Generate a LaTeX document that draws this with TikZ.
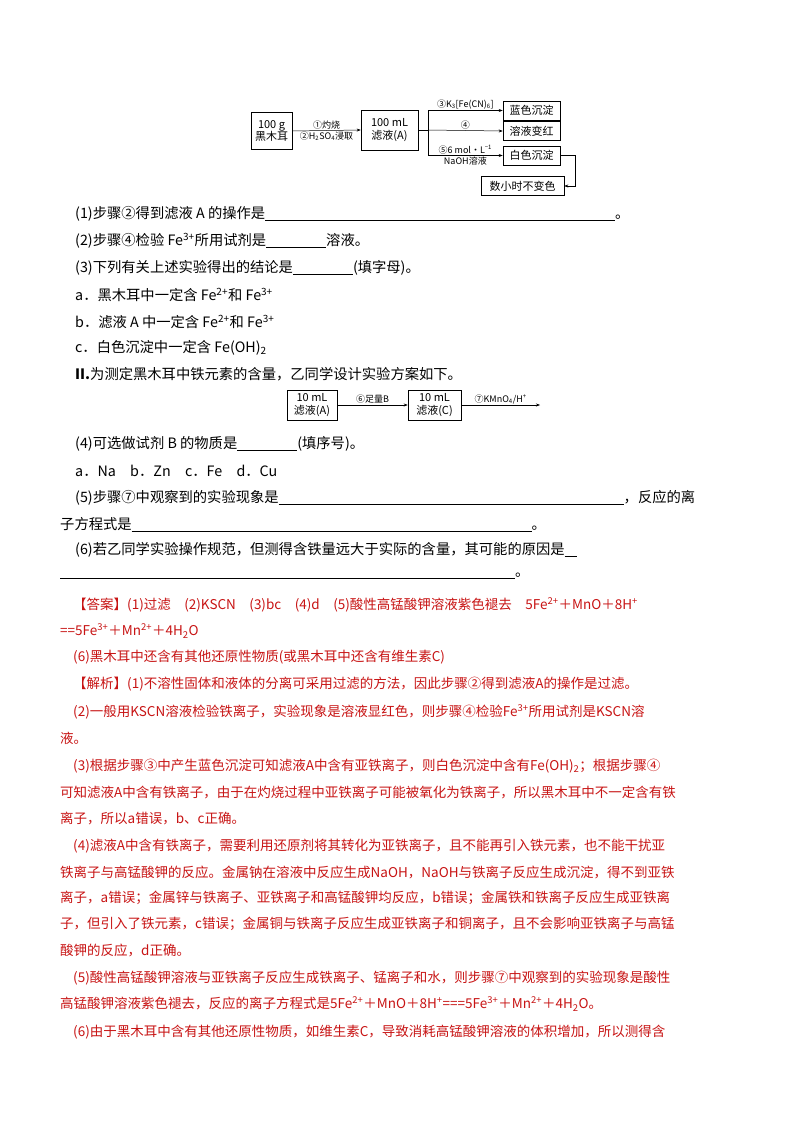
\documentclass[tikz,border=0pt]{standalone}
\usepackage{fontspec}
\setmainfont{Noto Sans CJK SC}
\usetikzlibrary{arrows.meta}
\newcommand\sps[1]{\textsuperscript{#1}}
\newcommand\sbs[1]{\textsubscript{#1}}
\newcommand\ul[1]{\rule[-2pt]{#1pt}{0.5pt}}
\definecolor{ans}{RGB}{200,20,20}
\begin{document}
\begin{tikzpicture}[x=1pt,y=-1pt,
 t/.style={anchor=west,inner sep=0,font=\fontsize{14.3}{16}\selectfont},
 r/.style={anchor=west,inner sep=0,font=\fontsize{13.5}{16}\selectfont,text=ans},
 bx/.style={draw,line width=0.6pt,inner sep=2pt,align=center,font=\fontsize{11}{12.5}\selectfont},
 lb/.style={inner sep=1pt,font=\fontsize{9}{10}\selectfont},
 ar/.style={-{Stealth[length=4pt,width=3pt]},line width=0.5pt}]
\useasboundingbox[fill=white] (0,0) rectangle (800,1132);
% diagram 1
\node[bx,minimum width=41pt,minimum height=37pt] (a) at (271.5,131) {100 g\\黑木耳};
\node[bx,minimum width=57pt,minimum height=40pt] (b) at (389.5,130) {100 mL\\滤液(A)};
\draw[ar] (a.east) -- (b.west) node[lb,midway,above] {①灼烧} node[lb,midway,below] {②H\sbs{2}SO\sbs{4}浸取};
\node[bx,minimum width=57pt,minimum height=19pt] (c1) at (531.5,110.5) {蓝色沉淀};
\node[bx,minimum width=57pt,minimum height=19pt] (c2) at (531.5,131) {溶液变红};
\node[bx,minimum width=57pt,minimum height=19pt] (c3) at (531.5,155.5) {白色沉淀};
\node[bx,minimum width=83pt,minimum height=19pt] (c4) at (522.5,186) {数小时不变色};
\coordinate (j) at (428,130);
\draw[line width=0.5pt] (b.east) -- (j);
\draw[line width=0.5pt] (j|-c1) -- (j|-c3);
\draw[ar] (j|-c1) -- (c1.west) node[lb,midway,above] {③K\sbs{3}[Fe(CN)\sbs{6}]};
\draw[ar] (j) -- (c2.west) node[lb,midway,above] {④};
\draw[ar] (j|-c3) -- (c3.west) node[lb,midway,above] {⑤6 mol·L\sps{−1}} node[lb,midway,below] {NaOH溶液};
\draw[ar] (c3.east) -- ++(15,0) |- (c4.east);
% text
\node[t] at (75,214) {(1)步骤②得到滤液 A 的操作是\ul{350}。};
\node[t] at (75,241) {(2)步骤④检验 Fe\sps{3+}所用试剂是\ul{60}溶液。};
\node[t] at (75,268) {(3)下列有关上述实验得出的结论是\ul{60}(填字母)。};
\node[t] at (75,295) {a．黑木耳中一定含 Fe\sps{2+}和 Fe\sps{3+}};
\node[t] at (75,322) {b．滤液 A 中一定含 Fe\sps{2+}和 Fe\sps{3+}};
\node[t] at (75,348) {c．白色沉淀中一定含 Fe(OH)\sbs{2}};
\node[t] at (75,374) {\textbf{II.}为测定黑木耳中铁元素的含量，乙同学设计实验方案如下。};
% diagram 2
\node[bx,minimum width=50pt,minimum height=30pt] (d1) at (312,405) {10 mL\\滤液(A)};
\node[bx,minimum width=53pt,minimum height=30pt] (d2) at (434.5,405) {10 mL\\滤液(C)};
\coordinate (d3) at (540,405);
\draw[ar] (d1.east) -- (d2.west) node[lb,midway,above] {⑥足量B};
\draw[ar] (d2.east) -- (d3) node[lb,midway,above] {⑦KMnO\sbs{4}/H\sps{+}};
\node[t] at (75,444) {(4)可选做试剂 B 的物质是\ul{60}(填序号)。};
\node[t] at (75,471) {a．Na\quad b．Zn\quad c．Fe\quad d．Cu};
\node[t] at (75,498) {(5)步骤⑦中观察到的实验现象是\ul{345}，反应的离};
\node[t] at (60,524) {子方程式是\ul{400}。};
\node[t] at (75,550) {(6)若乙同学实验操作规范，但测得含铁量远大于实际的含量，其可能的原因是\ul{12}};
\node[t] at (60,576) {\ul{455}。};
% answers
\node[r] at (73,605) {【答案】(1)过滤\quad (2)KSCN\quad (3)bc\quad (4)d\quad (5)酸性高锰酸钾溶液紫色褪去\quad 5Fe\sps{2+}＋MnO＋8H\sps{+}};
\node[r] at (60,631) {==5Fe\sps{3+}＋Mn\sps{2+}＋4H\sbs{2}O};
\node[r] at (73,657) {(6)黑木耳中还含有其他还原性物质(或黑木耳中还含有维生素C)};
\node[r] at (73,684) {【解析】(1)不溶性固体和液体的分离可采用过滤的方法，因此步骤②得到滤液A的操作是过滤。};
\node[r] at (73,712) {(2)一般用KSCN溶液检验铁离子，实验现象是溶液显红色，则步骤④检验Fe\sps{3+}所用试剂是KSCN溶};
\node[r] at (60,738) {液。};
\node[r] at (73,766) {(3)根据步骤③中产生蓝色沉淀可知滤液A中含有亚铁离子，则白色沉淀中含有Fe(OH)\sbs{2}；根据步骤④};
\node[r] at (60,792) {可知滤液A中含有铁离子，由于在灼烧过程中亚铁离子可能被氧化为铁离子，所以黑木耳中不一定含有铁};
\node[r] at (60,818) {离子，所以a错误，b、c正确。};
\node[r] at (73,846) {(4)滤液A中含有铁离子，需要利用还原剂将其转化为亚铁离子，且不能再引入铁元素，也不能干扰亚};
\node[r] at (60,872) {铁离子与高锰酸钾的反应。金属钠在溶液中反应生成NaOH，NaOH与铁离子反应生成沉淀，得不到亚铁};
\node[r] at (60,898) {离子，a错误；金属锌与铁离子、亚铁离子和高锰酸钾均反应，b错误；金属铁和铁离子反应生成亚铁离};
\node[r] at (60,924) {子，但引入了铁元素，c错误；金属铜与铁离子反应生成亚铁离子和铜离子，且不会影响亚铁离子与高锰};
\node[r] at (60,950) {酸钾的反应，d正确。};
\node[r] at (73,978) {(5)酸性高锰酸钾溶液与亚铁离子反应生成铁离子、锰离子和水，则步骤⑦中观察到的实验现象是酸性};
\node[r] at (60,1004) {高锰酸钾溶液紫色褪去，反应的离子方程式是5Fe\sps{2+}＋MnO＋8H\sps{+}===5Fe\sps{3+}＋Mn\sps{2+}＋4H\sbs{2}O。};
\node[r] at (73,1032) {(6)由于黑木耳中含有其他还原性物质，如维生素C，导致消耗高锰酸钾溶液的体积增加，所以测得含};
\end{tikzpicture}
\end{document}
